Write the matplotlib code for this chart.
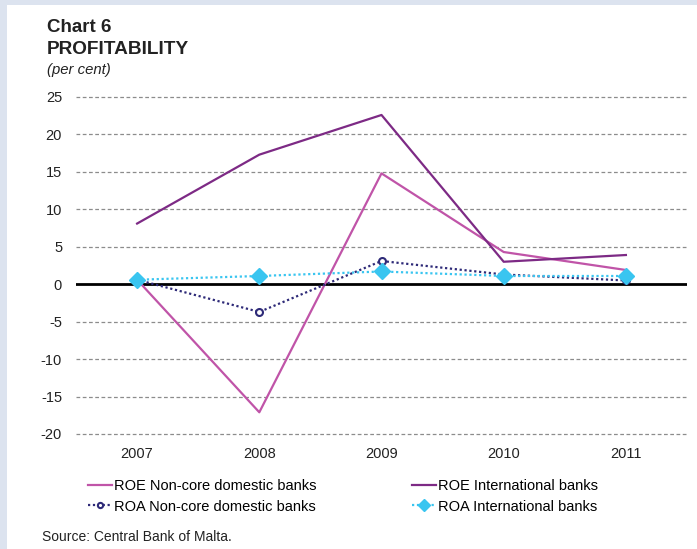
import numpy as np
import matplotlib.pyplot as plt
from matplotlib.patches import Rectangle

plt.rcParams['font.family'] = ['Liberation Sans', 'DejaVu Sans']
plt.rcParams['axes.unicode_minus'] = False

years = [2007, 2008, 2009, 2010, 2011]
roe_noncore = [0.6, -17.1, 14.8, 4.3, 1.9]
roe_intl = [8.1, 17.3, 22.6, 3.0, 3.9]
roa_noncore = [0.6, -3.7, 3.1, 1.3, 0.5]
roa_intl = [0.6, 1.1, 1.7, 1.1, 1.1]

yticks = [25, 20, 15, 10, 5, 0, -5, -10, -15, -20]

fig = plt.figure(figsize=(6.97, 5.49), dpi=100)

# light frame around the panel
fig.patches.append(Rectangle((0, 0), 1, 1, transform=fig.transFigure,
                             facecolor='#dce3ef', edgecolor='none', zorder=-2))
fig.patches.append(Rectangle((7 / 697, 0), 1, 1 - 5 / 549, transform=fig.transFigure,
                             facecolor='white', edgecolor='none', zorder=-1))

ax = fig.add_axes([76 / 697, 1 - 434 / 549, 611 / 697, 337 / 549])
ax.set_facecolor('none')

ax.plot(years, roe_noncore, color='#c054a8', lw=1.6, label='ROE Non-core domestic banks', zorder=3)
ax.plot(years, roe_intl, color='#7d2a85', lw=1.6, label='ROE International banks', zorder=3)
ax.plot(years, roa_noncore, color='#2e2a78', lw=1.6, ls=(0, (1, 1.2)), marker='o', ms=5,
        mfc='white', mec='#2e2a78', mew=1.5, label='ROA Non-core domestic banks', zorder=4)
ax.plot(years, roa_intl, color='#39c5f0', lw=1.6, ls=(0, (1, 1.2)), marker='D', ms=8,
        mfc='#39c5f0', mec='#39c5f0', label='ROA International banks', zorder=5)

ax.set_xlim(2006.5, 2011.5)
ax.set_ylim(-20, 25)
ax.set_yticks(yticks)
ax.set_xticks(years)
ax.set_xticklabels([str(y) for y in years])
for y in yticks:
    if y != 0:
        ax.axhline(y, color='#8c8c8c', lw=0.9, ls=(0, (3, 2)), zorder=1, clip_on=False)
ax.axhline(0, color='black', lw=2, zorder=2)

for s in ax.spines.values():
    s.set_visible(False)
ax.tick_params(axis='both', length=0, labelsize=10.5, colors='#222222')
ax.tick_params(axis='y', pad=10)
ax.tick_params(axis='x', pad=9)

fig.text(47 / 697, 1 - 28 / 549, 'Chart 6', fontsize=13.5, fontweight='bold', va='center', color='#222222')
fig.text(47 / 697, 1 - 50 / 549, 'PROFITABILITY', fontsize=13.7, fontweight='bold', va='center', color='#222222')
fig.text(47 / 697, 1 - 70 / 549, '(per cent)', fontsize=10.7, style='italic', va='center', color='#222222')
fig.text(42 / 697, 1 - 537 / 549, 'Source: Central Bank of Malta.', fontsize=10, va='center', color='#222222')

h, l = ax.get_legend_handles_labels()
order = [0, 2, 1, 3]
fig.legend([h[i] for i in order], [l[i] for i in order], ncol=2, frameon=False,
           loc='upper left', bbox_to_anchor=(88 / 697, 1 - 479 / 549),
           fontsize=10.5, handlelength=1.65, handletextpad=0.14, columnspacing=6.55,
           labelspacing=0.45, borderaxespad=0, borderpad=0, markerscale=0.75)

fig.savefig('out.png', dpi=100)
